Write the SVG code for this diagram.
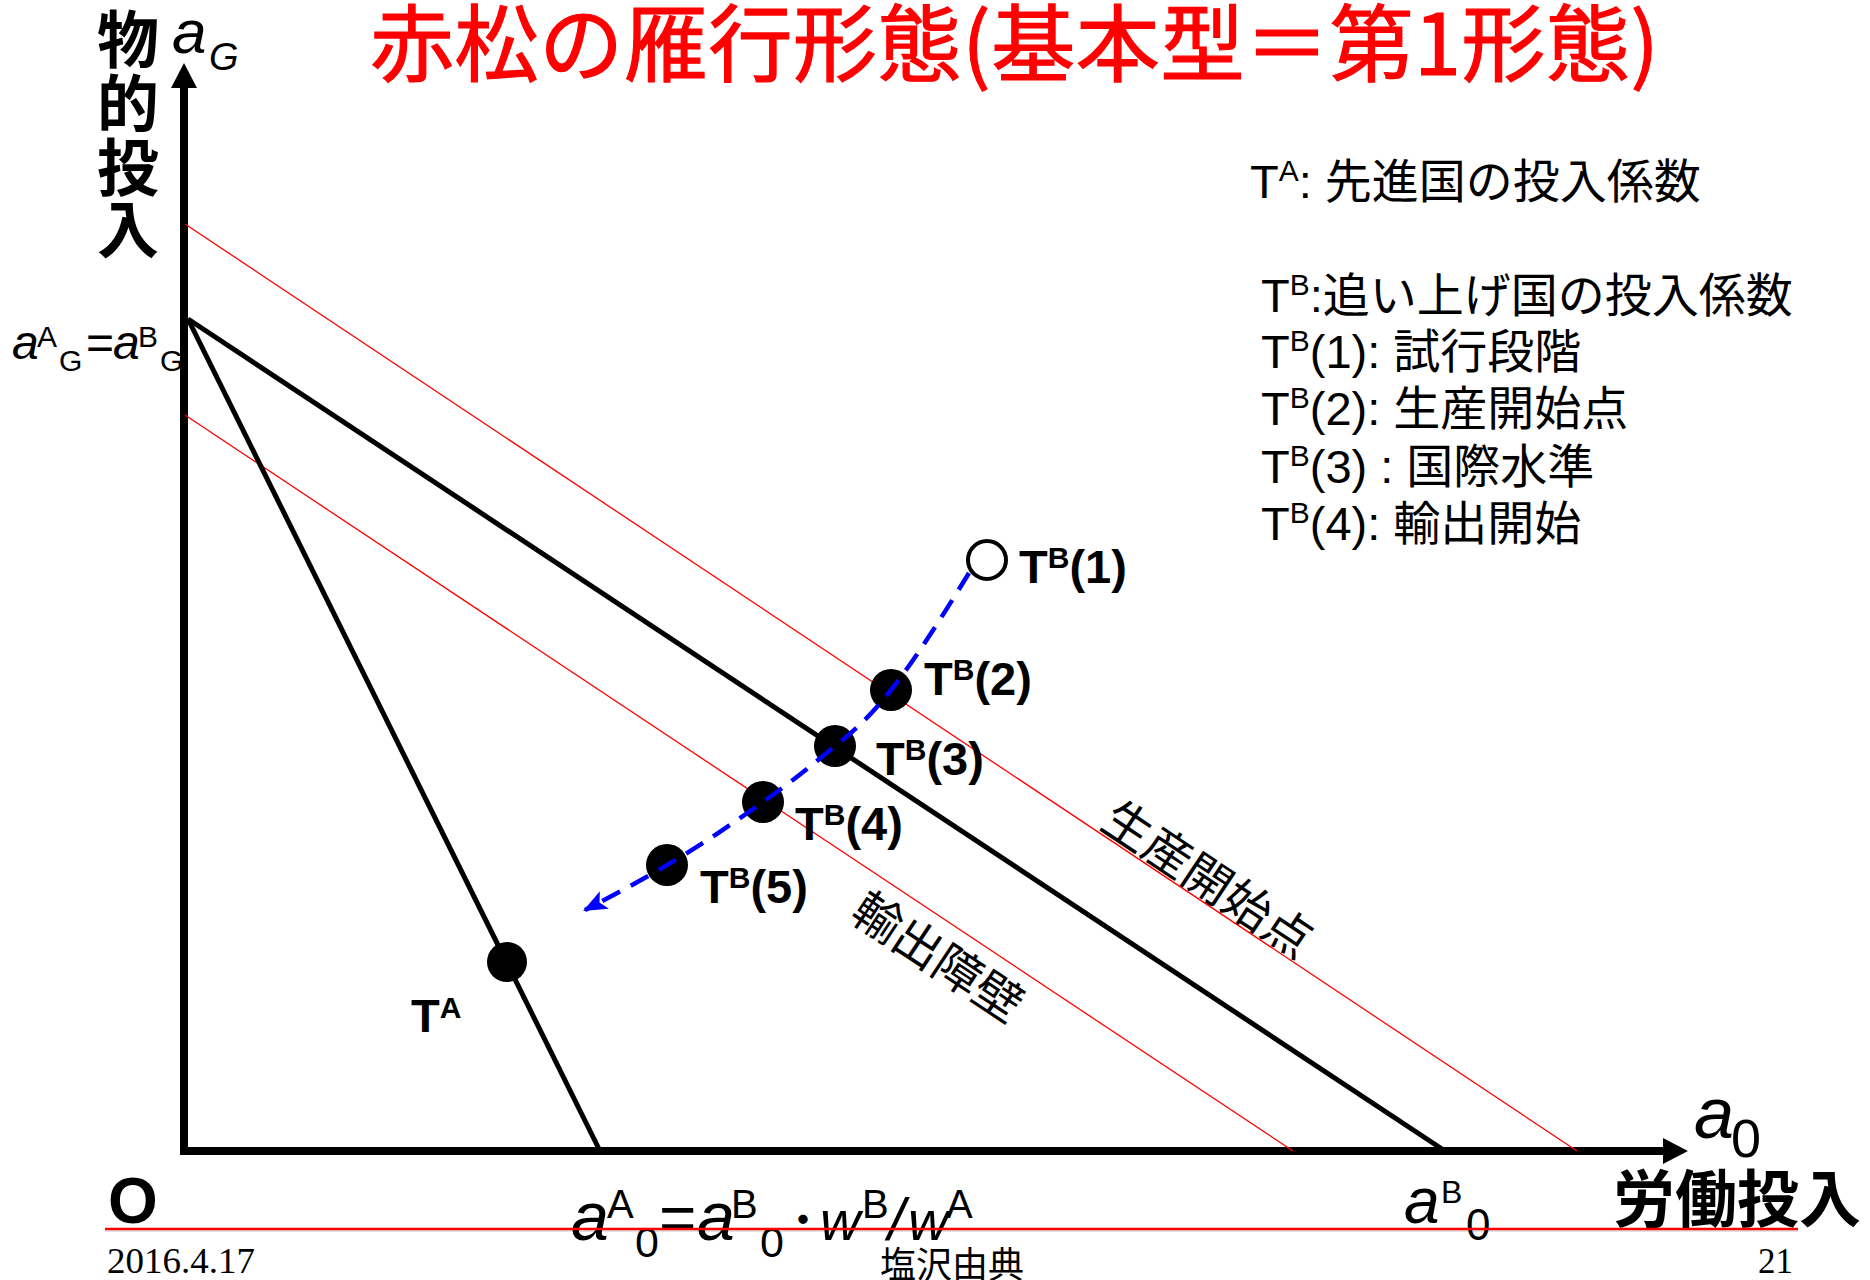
<svg xmlns="http://www.w3.org/2000/svg" width="1870" height="1280" viewBox="0 0 1870 1280">
<style>
.f{font-family:"Liberation Sans",Arial,"Noto Sans CJK JP",sans-serif;fill:#000}
.j{font-family:"Noto Sans CJK JP","Liberation Sans",sans-serif;fill:#000}
.b{font-weight:bold}
.it{font-style:italic}
.lb{font-family:"Liberation Sans",Arial,"Noto Sans CJK JP",sans-serif;font-weight:bold;font-size:47px;fill:#000}
.lg{font-family:"Liberation Sans",Arial,"Noto Sans CJK JP",sans-serif;font-size:47px;fill:#000}
.sp{font-size:30px}
.sl{font-size:30px}
.ax{stroke:#000;stroke-width:8;fill:none}
.bl{stroke:#000;stroke-width:5;fill:none}
.rl{stroke:#f00;stroke-width:1.3;fill:none}
.dash{stroke:#0000ff;stroke-width:4.5;fill:none;stroke-dasharray:20 12}
.dot{fill:#000}
</style>
<defs>
<marker id="arrK" markerUnits="userSpaceOnUse" markerWidth="26" markerHeight="26" viewBox="0 0 24 25" refX="0" refY="12.5" orient="auto">
<path d="M0,0 L24,12.5 L0,25 z" fill="#000"/>
</marker>
<marker id="arrB" markerUnits="userSpaceOnUse" markerWidth="24" markerHeight="20" viewBox="0 0 22 18" refX="20" refY="9" orient="auto">
<path d="M0,0 L22,9 L0,18 L5,9 z" fill="#0000ff"/>
</marker>
</defs>
<rect width="1870" height="1280" fill="#fff"/>

<text class="j" x="370" y="75" font-size="84" style="fill:#ff0000;stroke:#ff0000;stroke-width:1.2" textLength="1289" lengthAdjust="spacing">赤松の雁行形態(基本型＝第1形態)</text>

<g id="connectors">
<line class="ax" x1="184" y1="1155" x2="184" y2="88" marker-end="url(#arrK)"/>
<line class="ax" x1="180" y1="1151" x2="1663" y2="1151" marker-end="url(#arrK)"/>
<line class="rl" x1="185" y1="224" x2="1577" y2="1151"/>
<line class="rl" x1="185" y1="415" x2="1293" y2="1151"/>
<line class="bl" x1="188" y1="319" x2="1445" y2="1151"/>
<line class="bl" x1="188" y1="319" x2="600" y2="1151"/>
<line x1="105" y1="1231" x2="1798" y2="1231" stroke="#c8c8c8" stroke-width="1"/>
</g>

<g id="axis-labels">
<text class="j b" font-size="62" text-anchor="middle"><tspan x="128" y="63">物</tspan><tspan x="128" y="127">的</tspan><tspan x="128" y="191">投</tspan><tspan x="128" y="253">入</tspan></text>
<text class="f"><tspan x="172" y="53" class="it" font-size="62">a</tspan><tspan x="209" y="70" class="it" font-size="38">G</tspan></text>
<text class="f" font-size="48"><tspan x="12" y="359" class="it">a</tspan><tspan x="37" y="347" class="sl">A</tspan><tspan x="59" y="371" class="sl">G</tspan><tspan x="86" y="359">=</tspan><tspan x="113" y="359" class="it">a</tspan><tspan x="138" y="347" class="sl">B</tspan><tspan x="160" y="371" class="sl">G</tspan></text>
<text class="f"><tspan x="1694" y="1138" class="it" font-size="72">a</tspan><tspan x="1731" y="1157" font-size="54">0</tspan></text>
<text class="j b" x="1613" y="1222" font-size="62">労働投入</text>
<text class="f b" x="108" y="1223" font-size="64">O</text>
<text class="f"><tspan x="1404" y="1223" class="it" font-size="64">a</tspan><tspan x="1441" y="1203" font-size="32">B</tspan><tspan x="1466" y="1240" font-size="44">0</tspan></text>
<text class="f"><tspan x="571" y="1240" class="it" font-size="68">a</tspan><tspan x="607" y="1218" font-size="40">A</tspan><tspan x="635" y="1257" font-size="43">0</tspan><tspan x="659" y="1240" font-size="64">=</tspan><tspan x="697" y="1240" class="it" font-size="68">a</tspan><tspan x="731" y="1218" font-size="40">B</tspan><tspan x="760" y="1257" font-size="43">0</tspan><tspan x="781" y="1236" font-size="44">・</tspan><tspan x="820" y="1240" class="it" font-size="56">w</tspan><tspan x="862" y="1218" font-size="40">B</tspan><tspan x="888" y="1240" class="it" font-size="60">/</tspan><tspan x="908" y="1240" class="it" font-size="56">w</tspan><tspan x="946" y="1218" font-size="40">A</tspan></text>
</g>

<g id="lines-labels">
<text class="j" x="1210" y="876" font-size="48" text-anchor="middle" dominant-baseline="central" transform="rotate(33.7 1210 876)">生産開始点</text>
<text class="j" x="940" y="954" font-size="48" text-anchor="middle" dominant-baseline="central" transform="rotate(33.5 940 954)">輸出障壁</text>
</g>

<g id="node-TA">
<circle class="dot" cx="507" cy="962" r="20"/>
<text class="lb" x="411" y="1032">T<tspan class="sp" dy="-14">A</tspan></text>
</g>
<g id="node-TB1">
<circle cx="987" cy="560" r="19" fill="#fff" stroke="#000" stroke-width="4"/>
<text class="lb" x="1019" y="583">T<tspan class="sp" dy="-15">B</tspan><tspan dy="15">(1)</tspan></text>
</g>
<g id="node-TB2">
<circle class="dot" cx="891" cy="690" r="21"/>
<text class="lb" x="924" y="695">T<tspan class="sp" dy="-15">B</tspan><tspan dy="15">(2)</tspan></text>
</g>
<g id="node-TB3">
<circle class="dot" cx="835" cy="746" r="21"/>
<text class="lb" x="876" y="775">T<tspan class="sp" dy="-15">B</tspan><tspan dy="15">(3)</tspan></text>
</g>
<g id="node-TB4">
<circle class="dot" cx="763" cy="802" r="21"/>
<text class="lb" x="795" y="840">T<tspan class="sp" dy="-15">B</tspan><tspan dy="15">(4)</tspan></text>
</g>
<g id="node-TB5">
<circle class="dot" cx="667" cy="865" r="21"/>
<text class="lb" x="700" y="903">T<tspan class="sp" dy="-15">B</tspan><tspan dy="15">(5)</tspan></text>
</g>

<g id="trajectory">
<path class="dash" d="M969,573 C945,612 915,660 891,690 C872,714 856,730 835,746 C812,765 790,783 763,802 C732,824 700,846 667,865 C642,880 612,896 585,910" marker-end="url(#arrB)"/>
</g>

<g id="legend">
<text class="lg" x="1250" y="198">T<tspan font-size="30" dy="-17">A</tspan><tspan dy="17">: 先進国の投入係数</tspan></text>
<text class="lg" x="1261" y="312">T<tspan font-size="30" dy="-17">B</tspan><tspan dy="17">:追い上げ国の投入係数</tspan></text>
<text class="lg" x="1261" y="368">T<tspan font-size="30" dy="-17">B</tspan><tspan dy="17">(1): 試行段階</tspan></text>
<text class="lg" x="1261" y="425">T<tspan font-size="30" dy="-17">B</tspan><tspan dy="17">(2): 生産開始点</tspan></text>
<text class="lg" x="1261" y="483">T<tspan font-size="30" dy="-17">B</tspan><tspan dy="17">(3) : 国際水準</tspan></text>
<text class="lg" x="1261" y="540">T<tspan font-size="30" dy="-17">B</tspan><tspan dy="17">(4): 輸出開始</tspan></text>
</g>

<g id="footer">
<line x1="105" y1="1229" x2="1798" y2="1229" stroke="#ff0000" stroke-width="2.5"/>
<text x="107" y="1273" font-family="Liberation Serif,serif" font-size="35" textLength="148" lengthAdjust="spacingAndGlyphs">2016.4.17</text>
<text x="880" y="1278" class="j" font-size="36">塩沢由典</text>
<text x="1758" y="1273" font-family="Liberation Serif,serif" font-size="35">21</text>
</g>
</svg>
